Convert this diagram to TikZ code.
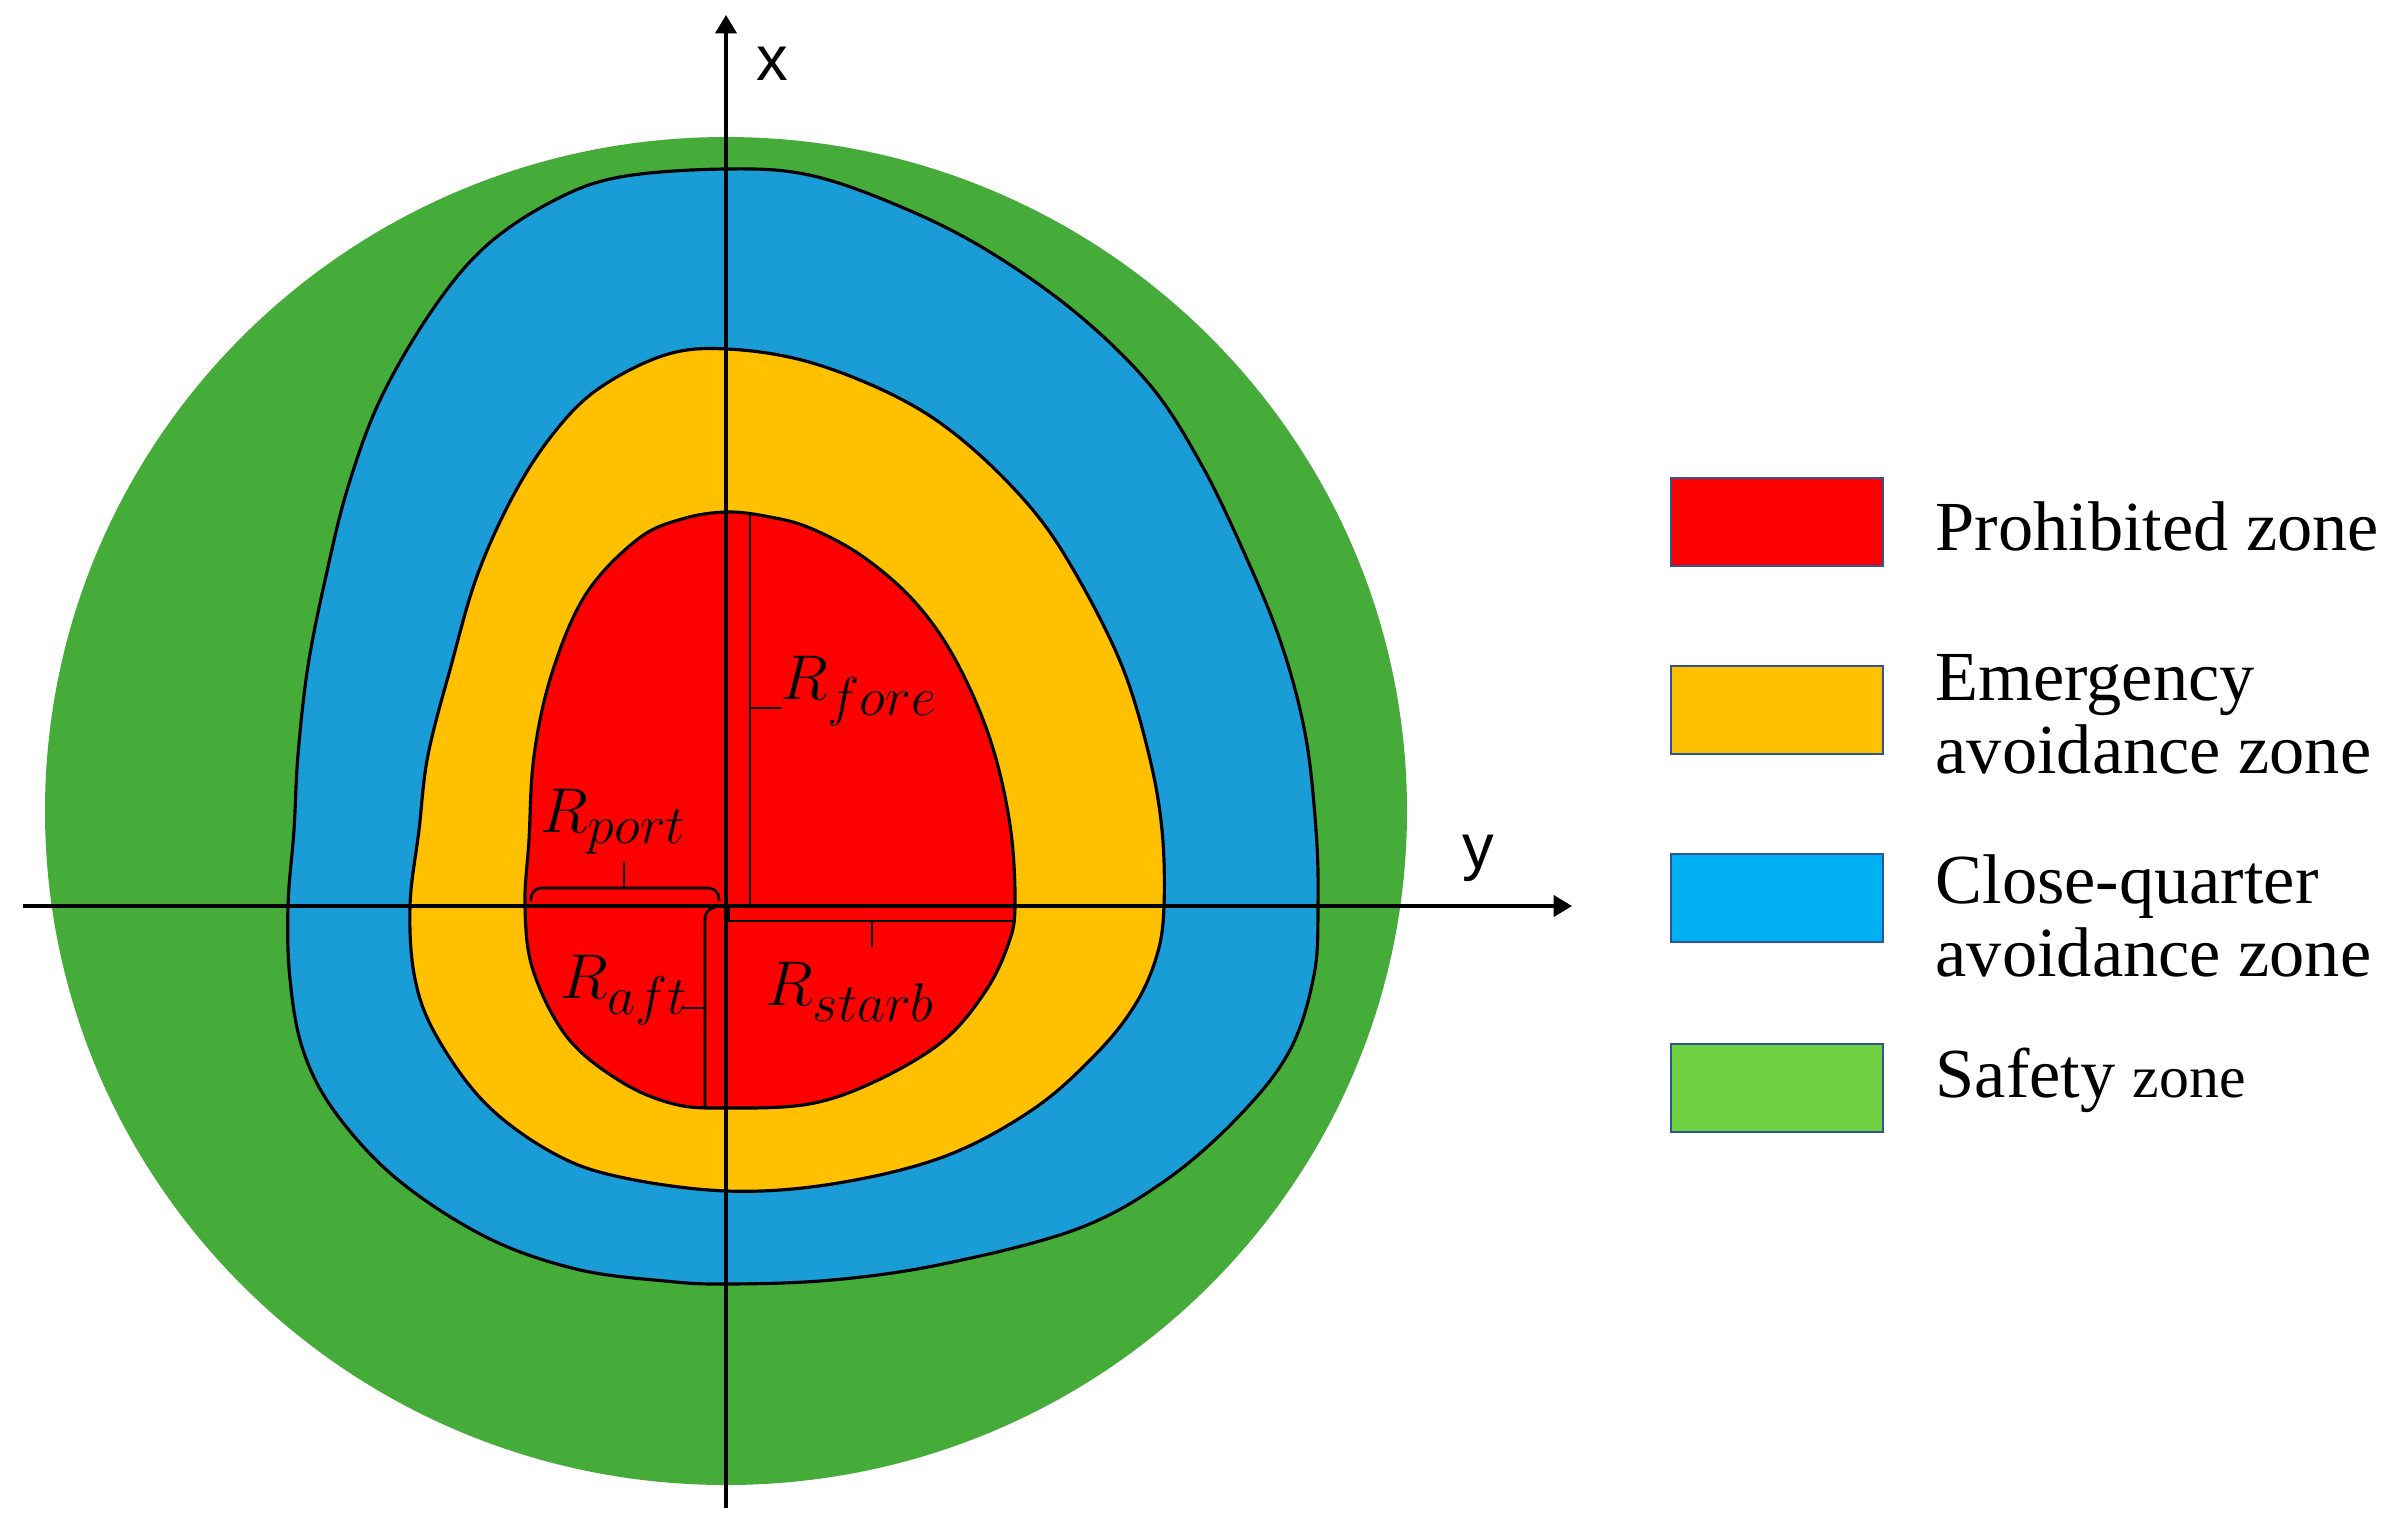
\RequirePackage{fix-cm}
\documentclass[tikz,border=0pt]{standalone}
\usepackage{fontspec}
\newfontfamily\legendfont{Liberation Serif}
\newfontfamily\axisfont{Liberation Sans}
\usetikzlibrary{arrows.meta}
\DeclareMathSizes{18}{18}{15.5}{12}
\definecolor{zonegreen}{RGB}{69,172,58}
\definecolor{zoneblue}{RGB}{26,157,215}
\definecolor{zoneyellow}{RGB}{255,192,0}
\definecolor{zonered}{RGB}{255,0,0}
\definecolor{legblue}{RGB}{0,176,240}
\definecolor{leggreen}{RGB}{111,209,66}
\definecolor{legedge}{RGB}{47,85,151}
\begin{document}
\begin{tikzpicture}[x=0.01cm,y=-0.01cm,
  zone/.style={draw=black, line width=0.9pt},
  axisline/.style={line width=0.9pt, -{Triangle[length=5.2pt,width=6pt]}},
  bracket/.style={line width=0.75pt},
  rlabel/.style={anchor=base west, inner sep=0pt, font=\fontsize{18}{20}\selectfont},
  axlabel/.style={anchor=base, inner sep=0pt, font=\axisfont\fontsize{18}{20}\selectfont},
  legbox/.style={draw=legedge, line width=0.6pt, minimum width=2.12cm, minimum height=0.88cm, inner sep=0pt},
  legtext/.style={anchor=base west, inner sep=0pt, font=\legendfont\fontsize{20}{21}\selectfont}]
\useasboundingbox (0,0) rectangle (2400,1536);

% safety zone
\fill[zonegreen] (726,811) ellipse [x radius=681, y radius=674];

% close-quarter avoidance zone
\path[zone, fill=zoneblue] plot[smooth cycle, tension=0.6] coordinates {
(726,169) (809,175) (899,206) (985,249) (1075,312) (1150,385) (1200,462)
(1242,548) (1280,640) (1305,733) (1316,830) (1318,906) (1314,975) (1290,1050)
(1240,1115) (1166,1180) (1077,1229) (943,1264) (832,1280) (727,1284)
(665,1281) (576,1269) (486,1237) (397,1179) (335,1112) (303,1050) (290,979)
(288,906) (294,830) (298,755) (308,666) (326,576) (348,487) (381,398)
(433,309) (486,246) (553,201) (620,177)};

% emergency avoidance zone
\path[zone, fill=zoneyellow] plot[smooth cycle, tension=0.6] coordinates {
(727,349) (809,362) (899,398) (966,443) (1032,509) (1077,576) (1122,666)
(1149,755) (1162,830) (1164,906) (1157,955) (1135,1005) (1095,1055)
(1032,1110) (943,1157) (832,1184) (727,1191) (620,1177) (553,1153)
(486,1104) (437,1037) (415,979) (410,906) (419,830) (428,755) (451,666)
(477,576) (513,496) (553,434) (598,389) (665,355)};

% prohibited zone
\path[zone, fill=zonered] plot[smooth cycle, tension=0.6] coordinates {
(727,512) (770,517) (810,528) (862,556) (914,601) (955,659) (990,739)
(1010,825) (1015,906) (1008,945) (985,992) (943,1041) (876,1081) (809,1104)
(727,1108) (674,1104) (620,1081) (567,1037) (533,970) (525,906) (529,840)
(534,756) (552,673) (586,594) (638,539) (682,519)};

% axes
\coordinate (xtail) at (726,1508);
\coordinate (xtip) at (726,15);
\coordinate (ytail) at (23,906);
\coordinate (ytip) at (1572,906);
\draw[axisline] (xtail) -- (xtip);
\draw[axisline] (ytail) -- (ytip);
\node[axlabel] (xlab) at (772,80) {x};
\node[axlabel] (ylab) at (1478,868) {y};

% R_fore bracket
\coordinate (foretop) at (750,513);
\coordinate (forebot) at (750,906);
\coordinate (foremid) at (750,708);
\coordinate (foretick) at (782,708);
\draw[bracket] (foretop) -- (forebot);
\draw[bracket] (foremid) -- (foretick);
\node[rlabel] (lfore) at (780,699) {$R_{fore}$};

% R_port bracket
\coordinate (portl) at (531,901);
\coordinate (portr) at (719,901);
\coordinate (portmid) at (624,888);
\coordinate (porttick) at (624,862);
\draw[bracket, rounded corners=3pt] (portl) -- (531,888) -- (719,888) -- (portr);
\draw[bracket] (portmid) -- (porttick);
\node[rlabel] (lport) at (540,832) {$R_{port}$};

% R_aft bracket
\coordinate (afttop) at (718,906);
\coordinate (aftbot) at (705,1108);
\coordinate (aftmid) at (705,1008);
\coordinate (afttick) at (681,1008);
\draw[bracket, rounded corners=2pt] (afttop) -- (705,911) -- (aftbot);
\draw[bracket] (aftmid) -- (afttick);
\node[rlabel] (laft) at (560,998) {$R_{aft}$};

% R_starb bracket
\coordinate (starl) at (729,906);
\coordinate (starr) at (1015,911);
\coordinate (starmid) at (872,921);
\coordinate (startick) at (872,947);
\draw[bracket] (starl) -- (729,921) -- (1015,921) -- (starr);
\draw[bracket] (starmid) -- (startick);
\node[rlabel] (lstarb) at (765,1005) {$R_{starb}$};

% legend
\node[legbox, fill=zonered] (kred) at (1777,522) {};
\node[legbox, fill=zoneyellow] (kyellow) at (1777,710) {};
\node[legbox, fill=legblue] (kblue) at (1777,898) {};
\node[legbox, fill=leggreen] (kgreen) at (1777,1088) {};
\node[legtext] (tred) at (1935,550) {Prohibited zone};
\node[legtext] (tyellow) at (1935,700) {\begin{tabular}[t]{@{}l@{}}Emergency\\avoidance zone\end{tabular}};
\node[legtext] (tblue) at (1935,903) {\begin{tabular}[t]{@{}l@{}}Close-quarter\\avoidance zone\end{tabular}};
\node[legtext] (tgreen) at (1935,1097) {Safety {\fontsize{17}{19}\selectfont zone}};
\end{tikzpicture}
\end{document}
